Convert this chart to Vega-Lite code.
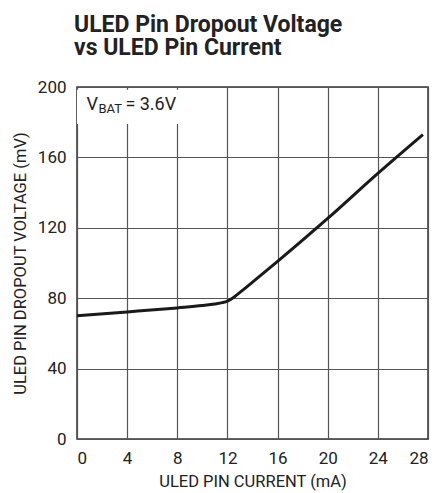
{
  "$schema": "https://vega.github.io/schema/vega-lite/v6.json",
  "width": 351,
  "height": 352,
  "autosize": {"type": "none"},
  "padding": {"left": 77, "top": 87, "right": 12, "bottom": 54},
  "background": "white",
  "title": {
    "text": ["ULED Pin Dropout Voltage", "vs ULED Pin Current"],
    "anchor": "start",
    "frame": "group",
    "font": "Roboto",
    "fontSize": 23,
    "fontWeight": "bold",
    "lineHeight": 23,
    "color": "#222222",
    "offset": 18,
    "dx": -3
  },
  "config": {
    "view": {"stroke": "#333333", "strokeWidth": 1.5},
    "font": "Roboto",
    "axis": {
      "labelFont": "Roboto",
      "titleFont": "Roboto",
      "labelColor": "#222222",
      "titleColor": "#222222",
      "labelFontSize": 17,
      "titleFontSize": 16.5,
      "titleFontWeight": "normal",
      "domain": false,
      "ticks": false,
      "gridColor": "#555555",
      "gridWidth": 1.2,
      "gridOpacity": 1
    }
  },
  "layer": [
    {
      "data": {
        "values": [
          {"current": 0, "voltage": 70},
          {"current": 4, "voltage": 72.2},
          {"current": 8, "voltage": 74.5},
          {"current": 10, "voltage": 75.8},
          {"current": 11, "voltage": 76.7},
          {"current": 11.6, "voltage": 77.5},
          {"current": 12, "voltage": 78.4},
          {"current": 12.4, "voltage": 80},
          {"current": 12.8, "voltage": 82.2},
          {"current": 13.3, "voltage": 85},
          {"current": 14, "voltage": 89.1},
          {"current": 16, "voltage": 100.9},
          {"current": 20, "voltage": 125.3},
          {"current": 24, "voltage": 150.9},
          {"current": 27.6, "voltage": 173}
        ]
      },
      "mark": {"type": "line", "color": "#1a1a1a", "strokeWidth": 3, "interpolate": "monotone"},
      "encoding": {
        "x": {
          "field": "current",
          "type": "quantitative",
          "scale": {"domain": [0, 28], "nice": false},
          "axis": {
            "values": [0, 4, 8, 12, 16, 20, 24, 28],
            "title": "ULED PIN CURRENT (mA)",
            "labelPadding": 11,
            "labelFlush": true,
            "titlePadding": 7
          }
        },
        "y": {
          "field": "voltage",
          "type": "quantitative",
          "scale": {"domain": [0, 200], "nice": false},
          "axis": {
            "values": [0, 40, 80, 120, 160, 200],
            "title": "ULED PIN DROPOUT VOLTAGE (mV)",
            "labelPadding": 11,
            "titlePadding": 9
          }
        }
      }
    },
    {
      "data": {"values": [{"x": 0, "x2": 8.3, "y": 198.5, "y2": 179}]},
      "mark": {"type": "rect", "fill": "white"},
      "encoding": {
        "x": {"field": "x", "type": "quantitative"},
        "x2": {"field": "x2"},
        "y": {"field": "y", "type": "quantitative"},
        "y2": {"field": "y2"}
      }
    },
    {
      "data": {"values": [{"current": 0.75, "voltage": 186.8}]},
      "layer": [
        {
          "mark": {"type": "text", "text": "V", "align": "left", "baseline": "alphabetic", "fontSize": 18, "color": "#222222", "font": "Roboto"},
          "encoding": {
            "x": {"field": "current", "type": "quantitative"},
            "y": {"field": "voltage", "type": "quantitative"}
          }
        },
        {
          "mark": {"type": "text", "text": "BAT", "align": "left", "baseline": "alphabetic", "fontSize": 13, "dx": 12, "dy": 3, "color": "#222222", "font": "Roboto"},
          "encoding": {
            "x": {"field": "current", "type": "quantitative"},
            "y": {"field": "voltage", "type": "quantitative"}
          }
        },
        {
          "mark": {"type": "text", "text": "= 3.6V", "align": "left", "baseline": "alphabetic", "fontSize": 18, "dx": 39, "color": "#222222", "font": "Roboto"},
          "encoding": {
            "x": {"field": "current", "type": "quantitative"},
            "y": {"field": "voltage", "type": "quantitative"}
          }
        }
      ]
    }
  ]
}
